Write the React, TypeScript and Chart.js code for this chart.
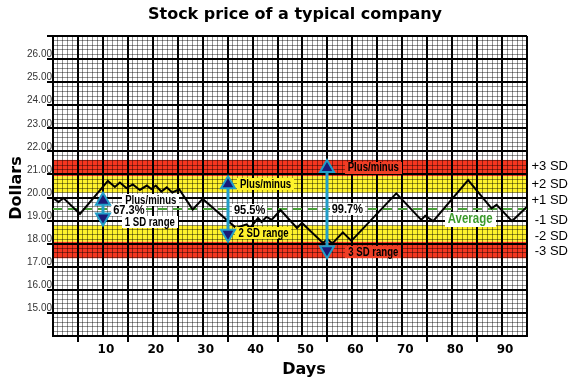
import { useEffect, useRef } from 'react';
import { Chart, registerables } from 'chart.js';

Chart.register(...registerables);

// ---------- data ----------
const days = [0, 1.1, 2.1, 5.4, 11.0, 12.4, 13.4, 14.7, 16.0, 17.4, 18.8, 19.7, 20.6, 21.7, 22.8, 23.9, 25.3, 28.0, 30.0, 36.7, 38.8, 39.5, 41.1, 41.8, 42.8, 43.8, 45.6, 48.9, 49.9, 54.1, 55.0, 56.0, 58.1, 59.8, 68.8, 73.8, 74.6, 76.2, 83.2, 87.9, 88.9, 92.0, 95.0];
const prices = [19.98, 19.81, 19.98, 19.29, 20.72, 20.46, 20.65, 20.41, 20.57, 20.33, 20.52, 20.37, 20.52, 20.26, 20.44, 20.22, 20.36, 19.48, 19.94, 18.68, 18.84, 18.68, 19.11, 18.94, 19.17, 19.03, 19.46, 18.68, 18.9, 18.03, 18.2, 18.01, 18.49, 18.12, 20.18, 19.03, 19.21, 18.98, 20.76, 19.53, 19.68, 18.98, 19.6];

const average = 19.5;
const sd = 0.71;

const xTickLabels = [10, 20, 30, 40, 50, 60, 70, 80, 90];
const yTickLabels = [15, 16, 17, 18, 19, 20, 21, 22, 23, 24, 25, 26];

const sdLabels = ['+3 SD', '+2 SD', '+1 SD', '-1 SD', '-2 SD', '-3 SD'];
const sdLabelValues = [21.34, 20.57, 19.86, 19.0, 18.3, 17.65];

const arrowDays = [10, 35, 55];
const arrowSigmas = [1, 2, 3];
const arrowPercents = ['67.3%', '95.5%', '99.7%'];
const arrowRanges = ['1 SD range', '2 SD range', '3 SD range'];

// ---------- styles ----------
const RED = '#f5361f';
const YELLOW = '#fff22c';
const LABEL_RED = '#ef3f26';
const NAVY = '#1b1b78';
const TEAL = '#219ec9';
const GREEN = '#4aa23a';
const GREEN_TEXT = '#3c9a2c';
const SANS = '"Liberation Sans", Arial, sans-serif';

// annotation placement (day, value) and box colours
const annPlusMinusPos = [[19.6, 19.89], [42.6, 20.59], [64.2, 21.3]];
const annPercentPos = [[15.2, 19.46], [39.4, 19.48], [59.0, 19.5]];
const annRangePos = [[19.4, 18.94], [42.2, 18.46], [64.2, 17.64]];
const annBoxColors = ['#ffffff', YELLOW, LABEL_RED];
const averageLabelPos = [83.6, 19.07];

const isInt = (v: number) => Math.abs(v - Math.round(v)) < 1e-6;
const isMult = (v: number, m: number) => isInt(v / m);

function textBox(ctx: CanvasRenderingContext2D, text: string, x: number, y: number, font: string, color: string, bg: string | null, padX: number, h: number, sx: number) {
  ctx.save();
  ctx.font = font;
  const w = ctx.measureText(text).width * sx;
  if (bg) {
    ctx.fillStyle = bg;
    ctx.fillRect(Math.round(x - w / 2 - padX), Math.round(y - h / 2), Math.round(w + padX * 2), h);
  }
  ctx.fillStyle = color;
  ctx.textAlign = 'center';
  ctx.textBaseline = 'middle';
  ctx.translate(x, y + 0.5);
  ctx.scale(sx, 1);
  ctx.fillText(text, 0, 0);
  ctx.restore();
}

function triangle(ctx: CanvasRenderingContext2D, x: number, tip: number, dir: number) {
  // dir = 1 : tip on top (pointing up), dir = -1 : pointing down
  const h = 12, w = 7;
  ctx.beginPath();
  ctx.moveTo(x, tip);
  ctx.lineTo(x - w, tip + dir * h);
  ctx.lineTo(x + w, tip + dir * h);
  ctx.closePath();
  ctx.fillStyle = NAVY;
  ctx.fill();
  ctx.lineWidth = 2;
  ctx.strokeStyle = TEAL;
  ctx.stroke();
}

const decorPlugin = {
  id: 'decor',
  beforeDraw(chart: any) {
    const { ctx, chartArea: a, scales } = chart;
    const y = scales.y;
    const band = (lo: number, hi: number, color: string) => {
      const y1 = y.getPixelForValue(hi);
      const y2 = y.getPixelForValue(lo);
      ctx.fillStyle = color;
      ctx.fillRect(a.left, y1, a.right - a.left, y2 - y1);
    };
    ctx.save();
    band(average + 2 * sd, average + 3 * sd, RED);
    band(average + 1 * sd, average + 2 * sd, YELLOW);
    band(average - 2 * sd, average - 1 * sd, YELLOW);
    band(average - 3 * sd, average - 2 * sd, RED);
    ctx.restore();
  },
  beforeDatasetsDraw(chart: any) {
    const { ctx, chartArea: a, scales } = chart;
    const py = Math.round(scales.y.getPixelForValue(average));
    ctx.save();
    ctx.strokeStyle = GREEN;
    ctx.lineWidth = 2;
    ctx.setLineDash([9, 6]);
    ctx.beginPath();
    ctx.moveTo(a.left, py);
    ctx.lineTo(a.right, py);
    ctx.stroke();
    ctx.restore();
  },
  afterDatasetsDraw(chart: any) {
    const { ctx, scales } = chart;
    const xs = scales.x, ys = scales.y;
    const fSmall = `bold 12px ${SANS}`;
    const fPct = `bold 13px ${SANS}`;
    ctx.save();
    // text boxes
    for (let i = 0; i < 3; i++) {
      const [pd, pv] = annPlusMinusPos[i];
      const [qd, qv] = annPercentPos[i];
      const [rd, rv] = annRangePos[i];
      textBox(ctx, 'Plus/minus', xs.getPixelForValue(pd), ys.getPixelForValue(pv), fSmall, '#000', annBoxColors[i], 3, 12, 0.8);
      textBox(ctx, arrowPercents[i], xs.getPixelForValue(qd), ys.getPixelForValue(qv), fPct, '#000', '#ffffff', 2, 12, 0.85);
      textBox(ctx, arrowRanges[i], xs.getPixelForValue(rd), ys.getPixelForValue(rv), fSmall, '#000', annBoxColors[i], 3, 12, 0.8);
    }
    textBox(ctx, 'Average', xs.getPixelForValue(averageLabelPos[0]), ys.getPixelForValue(averageLabelPos[1]), `bold 14px ${SANS}`, GREEN_TEXT, '#ffffff', 3, 15, 0.82);
    // arrows
    for (let i = 0; i < 3; i++) {
      const x = Math.round(xs.getPixelForValue(arrowDays[i]));
      const top = ys.getPixelForValue(average + arrowSigmas[i] * sd);
      const bot = ys.getPixelForValue(average - arrowSigmas[i] * sd);
      ctx.strokeStyle = TEAL;
      ctx.lineWidth = 3;
      ctx.beginPath();
      ctx.moveTo(x, top + 10);
      ctx.lineTo(x, bot - 10);
      ctx.stroke();
      triangle(ctx, x, top, 1);
      triangle(ctx, x, bot, -1);
    }
    ctx.restore();
  },
  afterDraw(chart: any) {
    const { ctx, chartArea: a, scales } = chart;
    ctx.save();
    ctx.fillStyle = '#000';
    // title
    ctx.font = 'bold 16px "DejaVu Sans", sans-serif';
    ctx.textAlign = 'center';
    ctx.textBaseline = 'alphabetic';
    ctx.fillText('Stock price of a typical company', 295, 19);
    // x title
    ctx.fillText('Days', 304, 374);
    // y title
    ctx.save();
    ctx.translate(17, (a.top + a.bottom) / 2 + 2);
    ctx.rotate(-Math.PI / 2);
    ctx.textBaseline = 'middle';
    ctx.fillText('Dollars', 0, 0);
    ctx.restore();
    // SD labels on the right
    ctx.font = `13px ${SANS}`;
    ctx.textAlign = 'right';
    ctx.textBaseline = 'middle';
    for (let i = 0; i < sdLabels.length; i++) {
      ctx.fillText(sdLabels[i], 568, scales.y.getPixelForValue(sdLabelValues[i]));
    }
    ctx.restore();
  },
};

export default function App() {
  const ref = useRef<HTMLCanvasElement | null>(null);

  useEffect(() => {
    if (!ref.current) return;
    const minor = 'rgba(0,0,0,0.42)';
    const chart = new Chart(ref.current, {
      type: 'line',
      data: {
        datasets: [
          {
            data: days.map((d, i) => ({ x: d, y: prices[i] })),
            borderColor: '#000',
            borderWidth: 2,
            pointRadius: 0,
            tension: 0,
            fill: false,
          },
        ],
      },
      options: {
        animation: false,
        responsive: false,
        devicePixelRatio: 1,
        layout: { padding: { left: 0, right: 52, top: 36, bottom: 0 } },
        plugins: { legend: { display: false }, tooltip: { enabled: false }, title: { display: false } },
        scales: {
          x: {
            type: 'linear',
            min: 0,
            max: 95,
            afterFit: (s: any) => { s.height = 48; },
            ticks: {
              stepSize: 1,
              autoSkip: false,
              maxRotation: 0,
              minRotation: 0,
              padding: 1,
              labelOffset: 3,
              color: '#000',
              font: { family: '"DejaVu Sans", sans-serif', weight: 'bold', size: 12 },
              callback: (v: any) => (xTickLabels.includes(Math.round(Number(v))) && isInt(Number(v)) ? String(Math.round(Number(v))) : ''),
            },
            grid: {
              color: (c: any) => (isMult(c.tick.value, 5) ? '#000' : minor),
              lineWidth: (c: any) => (isMult(c.tick.value, 5) ? 2 : 1),
              drawTicks: true,
              tickLength: 6,
              tickWidth: 2,
              tickColor: (c: any) => {
                const v = c.tick.value;
                return isMult(v, 5) && !isMult(v, 10) && v < 95 ? '#000' : 'rgba(0,0,0,0)';
              },
            },
            border: { display: true, color: '#000', width: 2 },
          },
          y: {
            type: 'linear',
            min: 14,
            max: 27,
            afterFit: (s: any) => { s.width = 53; },
            ticks: {
              stepSize: 0.2,
              autoSkip: false,
              padding: -5,
              labelOffset: -4.5,
              color: '#333',
              font: { family: SANS, size: 10 },
              callback: (v: any) => {
                const n = Number(v);
                return isInt(n) && yTickLabels.includes(Math.round(n)) ? n.toFixed(2) : '';
              },
            },
            grid: {
              color: (c: any) => (isInt(c.tick.value) ? '#000' : minor),
              lineWidth: (c: any) => (isInt(c.tick.value) ? 2 : 1),
              drawTicks: true,
              tickLength: 6,
              tickWidth: 2,
              tickColor: (c: any) => (isInt(c.tick.value) && c.tick.value >= 15 ? '#000' : 'rgba(0,0,0,0)'),
            },
            border: { display: true, color: '#000', width: 2 },
          },
        },
      },
      plugins: [decorPlugin],
    } as any);
    return () => chart.destroy();
  }, []);

  return (
    <div style={{ position: 'absolute', left: 0, top: 0, width: 579, height: 384 }}>
      <canvas ref={ref} width={579} height={384} style={{ display: 'block' }} />
    </div>
  );
}
